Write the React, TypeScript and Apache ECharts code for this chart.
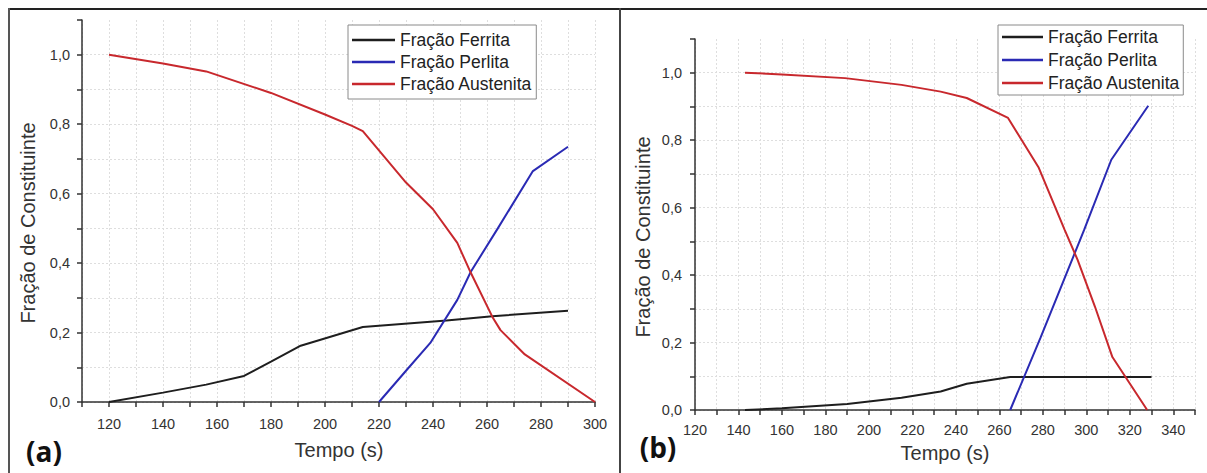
import React, { useEffect, useRef } from "react";
import * as echarts from "echarts";

// ---- Data: panel (a) ----
const ferritaA_x = [120, 140, 156, 170, 180, 191, 214, 245, 262, 290];
const ferritaA_y = [0.0, 0.027, 0.05, 0.075, 0.116, 0.162, 0.216, 0.235, 0.247, 0.263];
const perlitaA_x = [220, 230, 239, 249, 254, 264, 277, 290];
const perlitaA_y = [0.0, 0.09, 0.17, 0.294, 0.375, 0.5, 0.665, 0.735];
const austenitaA_x = [120, 140, 156, 180, 200, 210, 214, 230, 240, 249, 254, 262, 265, 274, 300];
const austenitaA_y = [1.0, 0.975, 0.952, 0.89, 0.828, 0.795, 0.78, 0.632, 0.555, 0.458, 0.372, 0.245, 0.207, 0.137, 0.0];

// ---- Data: panel (b) ----
const ferritaB_x = [143, 160, 190, 215, 233, 245, 265, 330];
const ferritaB_y = [0.0, 0.005, 0.018, 0.036, 0.055, 0.078, 0.098, 0.098];
const perlitaB_x = [265, 279, 299, 311.5, 328.5];
const perlitaB_y = [0.0, 0.215, 0.534, 0.742, 0.902];
const austenitaB_x = [143, 160, 189, 215, 233, 245, 264, 278, 290, 296, 304, 312, 328];
const austenitaB_y = [1.0, 0.995, 0.984, 0.964, 0.944, 0.925, 0.866, 0.72, 0.535, 0.445, 0.306, 0.157, 0.0];

const seriesNames = ["Fração Ferrita", "Fração Perlita", "Fração Austenita"];
const seriesColors = ["#1e1e1e", "#2a2ab4", "#c8282d"];
const yAxisTitle = "Fração de Constituinte";
const xAxisTitle = "Tempo (s)";

const FONT = "'Liberation Sans', Arial, sans-serif";

const zip = (xs: number[], ys: number[]) => xs.map((x, i) => [x, ys[i]]);

export default function App() {
  const ref = useRef<HTMLDivElement>(null);

  useEffect(() => {
    document.body.style.margin = "0";
    if (!ref.current) return;
    const chart = echarts.init(ref.current, null, { renderer: "svg" });

    const xLabelFmt = (v: number) => (Math.round(v) % 20 === 0 ? String(Math.round(v)) : "");
    const yLabelFmt = (v: number) => {
      const t = Math.round(v * 10);
      return t % 2 === 0 ? (t / 10).toFixed(1).replace(".", ",") : "";
    };
    const splitLine = {
      show: true,
      showMaxLine: false,
      lineStyle: { color: "#dedede", type: [2, 2], width: 1 },
    };
    const axisLine = { show: true, onZero: false, lineStyle: { color: "#333", width: 1.5 } };
    const axisTick = { show: true, inside: false, length: 5, lineStyle: { color: "#333", width: 1.5 } };

    const mkX = (gridIndex: number, min: number, max: number, margin: number) => ({
      type: "value",
      gridIndex,
      min,
      max,
      interval: 10,
      axisLine,
      axisTick,
      axisLabel: { formatter: xLabelFmt, fontSize: 14.5, color: "#333", fontFamily: FONT, margin },
      splitLine: { ...splitLine, showMaxLine: true },
    });
    const mkY = (gridIndex: number, margin: number) => ({
      type: "value",
      gridIndex,
      min: 0,
      max: 1.1,
      interval: 0.1,
      axisLine,
      axisTick,
      axisLabel: { formatter: yLabelFmt, fontSize: 14.5, color: "#333", fontFamily: FONT, margin },
      splitLine,
    });

    const dataA = [zip(ferritaA_x, ferritaA_y), zip(perlitaA_x, perlitaA_y), zip(austenitaA_x, austenitaA_y)];
    const dataB = [zip(ferritaB_x, ferritaB_y), zip(perlitaB_x, perlitaB_y), zip(austenitaB_x, austenitaB_y)];

    const series: any[] = [];
    [dataA, dataB].forEach((set, gi) => {
      set.forEach((d, i) => {
        series.push({
          type: "line",
          name: seriesNames[i],
          xAxisIndex: gi,
          yAxisIndex: gi,
          data: d,
          symbol: "none",
          showSymbol: false,
          smooth: false,
          lineStyle: { color: seriesColors[i], width: 2 },
          itemStyle: { color: seriesColors[i] },
          z: 3,
        });
      });
    });

    const legendBase = {
      orient: "vertical",
      data: seriesNames.map((n, i) => ({ name: n, icon: "rect", itemStyle: { color: seriesColors[i] } })),
      selectedMode: false,
      backgroundColor: "#ffffff",
      borderColor: "#8a8a8a",
      borderWidth: 1,
      borderRadius: 0,
      itemHeight: 2.5,
      symbolKeepAspect: false,
      textStyle: { fontSize: 17.5, lineHeight: 17, color: "#222", fontFamily: FONT },
    };

    const txt = (x: number, y: number, text: string, size: number, opts: any = {}) => ({
      type: "text",
      x,
      y,
      rotation: opts.rotation || 0,
      z: 10,
      style: {
        text,
        fontSize: size,
        fontFamily: opts.family || FONT,
        fontWeight: opts.weight || "normal",
        fill: opts.fill || "#333",
        align: "center",
        verticalAlign: "middle",
        textAlign: "center",
        textVerticalAlign: "middle",
      },
    });

    chart.setOption({
      animation: false,
      backgroundColor: "#ffffff",
      grid: [
        { left: 82, top: 20, width: 513, height: 382, containLabel: false },
        { left: 695, top: 39, width: 500, height: 371, containLabel: false },
      ],
      xAxis: [mkX(0, 110, 300, 14), mkX(1, 120, 350, 12)],
      yAxis: [mkY(0, 12), mkY(1, 13)],
      legend: [
        { ...legendBase, left: 348, top: 25, padding: [6, 4, 6, 4], itemGap: 4, itemWidth: 43 },
        { ...legendBase, left: 998, top: 25, padding: [3, 3, 3, 4], itemGap: 5, itemWidth: 41 },
      ],
      series,
      graphic: [
        { type: "line", shape: { x1: 8, y1: 9, x2: 1207, y2: 9 }, style: { stroke: "#222", lineWidth: 2 }, z: 20 },
        { type: "line", shape: { x1: 9, y1: 8, x2: 9, y2: 473 }, style: { stroke: "#555", lineWidth: 2 }, z: 20 },
        { type: "line", shape: { x1: 620, y1: 8, x2: 620, y2: 473 }, style: { stroke: "#444", lineWidth: 2 }, z: 20 },
        txt(28, 223, yAxisTitle, 20, { rotation: Math.PI / 2 }),
        txt(643, 237, yAxisTitle, 20, { rotation: Math.PI / 2 }),
        txt(339, 450, xAxisTitle, 20),
        txt(945, 453, xAxisTitle, 20),
        txt(44, 451, "(a)", 28, { weight: "bold", fill: "#111", family: "'Open Sans', sans-serif" }),
        txt(658, 447, "(b)", 28, { weight: "bold", fill: "#111", family: "'Open Sans', sans-serif" }),
      ],
    });

    return () => chart.dispose();
  }, []);

  return <div ref={ref} style={{ width: 1207, height: 473 }} />;
}
